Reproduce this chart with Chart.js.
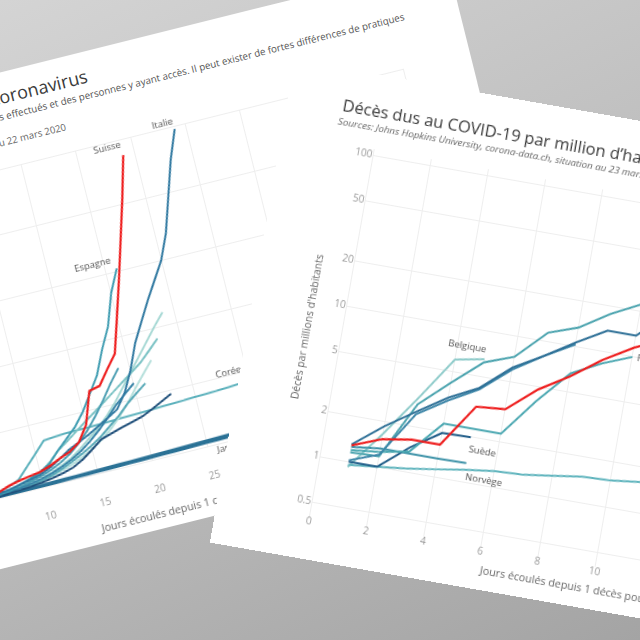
<!DOCTYPE html>
<html lang="fr">
<head>
<meta charset="utf-8">
<title>Coronavirus – cas et décès par million d'habitants</title>
<script src="https://cdn.jsdelivr.net/npm/chart.js@4.4.1/dist/chart.umd.min.js"></script>
<style>
  html, body { margin: 0; padding: 0; }
  body {
    width: 640px; height: 640px; overflow: hidden; position: relative;
    background: linear-gradient(155deg, #d4d4d4 0%, #c0c0c0 45%, #a4a4a4 100%);
    font-family: 'Open Sans', 'Noto Sans', sans-serif;
  }
  .card { position: absolute; background: #fff; overflow: hidden; }
  #card-cases {
    left: -553px; top: -39px; width: 1000px; height: 482px;
    transform-origin: 100% 0; transform: rotate(-14deg);
  }
  #card-deaths {
    left: 295px; top: 60px; width: 800px; height: 490px;
    transform-origin: 0 0; transform: rotate(10deg);
  }
  .txt { position: absolute; white-space: nowrap; }
  .title { line-height: 24px; color: #3b3b3b; }
  .sub { line-height: 12px; color: #555; }
  canvas { position: absolute; }
</style>
</head>
<body>

<div class="card" id="card-cases">
  <div class="txt title" style="right:377px; top:12px; font-size:18px;">Nombre de cas de coronavirus</div>
  <div class="txt sub" style="right:55px; top:38px; font-size:9.8px;">Les chiffres dépendent du nombre de tests effectués et des personnes y ayant accès. Il peut exister de fortes différences de pratiques</div>
  <div class="txt sub" style="right:410px; top:63px; font-size:9.6px; color:#666;">Sources: Johns Hopkins University, corona-data.ch, situation au 22 mars 2020</div>
  <canvas id="chart-cases" width="632" height="400" style="left:329px; top:74px;"></canvas>
</div>

<div class="card" id="card-deaths">
  <div class="txt title" style="left:55px; top:24px; font-size:16.5px;">Décès dus au COVID-19 par million d’habitants</div>
  <div class="txt sub" style="left:53px; top:47px; font-size:9.8px; font-style:italic; color:#666;">Sources: Johns Hopkins University, corona-data.ch, situation au 23 mars 2020</div>
  <canvas id="chart-deaths" width="691" height="411" style="left:45px; top:66px;"></canvas>
</div>

<script>
// ---- cas par million d'habitants, index = jours depuis 1 cas / million ----
const casSuisse    = [1, 2, 3, 5, 7, 11, 18, 30, 38, 44, 49, 60, 75, 88, 110, 158, 258, 266, 310, 352, 465, 580, 700, 820, 950];
const casItalie    = [1, 2, 3, 5, 7, 10, 14, 19, 26, 33, 41, 55, 74, 95, 110, 126, 144, 162, 181, 225, 290, 370, 430, 490, 545, 600, 680, 790, 900, 990];
const casEspagne   = [1.8, 2.6, 3.5, 4.7, 6, 8.5, 11, 14, 26, 36, 49, 67, 100, 130, 160, 200, 250, 300, 375, 440, 540, 610];
const casCoree     = [1, 2, 4, 8, 12, 16, 20, 28, 42, 75, 108, 142, 145, 147, 148, 148, 149, 150, 151, 152, 153, 154, 156, 157, 158, 160, 161, 162, 164, 166, 168, 170, 171];
const casJapon     = [1, 1.3, 1.6, 2, 2.5, 3.2, 4.2, 5, 5.8, 6.5, 7.2, 7.8, 8.4, 9, 9.6, 10.2, 10.8, 11.4, 12, 12.7, 13.4, 14.1, 14.9, 15.7, 16.5, 17.3, 18.2, 19, 19.8];
const casTaiwan    = [1, 1.1, 1.3, 1.5, 1.8, 2.1, 2.6, 3.1, 3.6, 4, 4.5, 5, 5.5, 6, 6.4, 6.8, 7.3, 7.8, 8.3, 8.8, 9.3, 9.8, 10.4, 11, 11.6, 12.2, 12.8, 13.4];
const casNorvege   = [1, 1.5, 2, 3, 4, 5, 7, 10, 14, 20, 28, 38, 52, 68, 90, 115, 140, 170, 205, 245, 285, 325, 365, 405, 442];
const casAutriche  = [1, 1.4, 2, 3, 4, 6, 8, 12, 18, 28, 45, 70, 100, 122, 145, 168, 190, 213, 236, 259, 282, 305, 335, 366];
const casAllemagne = [1, 1.5, 2, 3, 4, 5, 7, 9, 12, 16, 21, 28, 37, 48, 62, 80, 100, 125, 155, 190, 230, 268, 305];
const casFrance    = [1, 1.5, 2.2, 3, 4, 5.5, 7, 9, 12, 16, 22, 30, 42, 56, 72, 90, 110, 135, 160, 190, 215, 239];
const casSuede     = [1, 1.3, 1.7, 2.2, 3, 4, 5, 7, 9, 12, 16, 21, 28, 38, 55, 78, 102, 112, 122, 131, 140, 155, 171, 188];
const casDanemark  = [1, 1.5, 2, 3, 4, 6, 8, 11, 15, 20, 27, 36, 48, 63, 82, 105, 132, 162, 195, 222, 248];
const casBelgique  = [1, 1.6, 2.4, 3.5, 5, 7, 10, 14, 19, 26, 35, 47, 62, 82, 108, 140, 178, 220, 265, 306];

// ---- décès par million d'habitants, index 0 = jour 1 ----
const decesSuisse   = [1.28, 1.52, 1.63, 1.63, 3.15, 3.27, 4.78, 6.3, 8.75, 11.4, 14.0];
const decesItalie   = [1.3, 1.85, 2.5, 3.35, 4.2, 6.2, 8.0, 10.6, 13.7, 13.7, 21, 23.8, 30, 34.6, 41.4, 49.2, 56.6, 66.9, 79.8, 90.7];
const decesEspagne  = [1.15, 1.17, 2.8, 4.2, 6.2, 7.3, 11.4, 13.3, 17.7, 22.2, 29, 37.8];
const decesBelgique = [0.92, 1.65, 3.1, 6.0, 6.5];
const decesPaysBas  = [1.02, 1.2, 2.4, 3.2, 4.1, 6.0, 8.0, 10.3];
const decesFrance   = [1.19, 1.25, 1.36, 2.25, 2.25, 2.25, 4.0, 6.6, 8.3, 9.9];
const decesSuede    = [1.0, 1.0, 1.45, 1.95, 1.97];
const decesDanemark = [1.25, 1.32, 1.32, 1.32, 1.33];
const decesNorvege  = [0.95, 1.0, 1.05, 1.12, 1.2, 1.27, 1.3, 1.38, 1.47, 1.5, 1.58, 1.65];

const casTicksY = [0, 200, 400, 600, 800, 1000];
const decesTicksY = [0.5, 1, 2, 5, 10, 20, 50, 100];

const FONT = "'Open Sans', 'Noto Sans', sans-serif";
Chart.defaults.font.family = FONT;

function toPoints(values, firstDay) {
  return values.map((v, i) => ({ x: i + firstDay, y: v }));
}

// draws the country names next to their line, positioned through the scales
function lineLabels(items) {
  return {
    id: 'lineLabels',
    afterDatasetsDraw(chart) {
      const { ctx, scales } = chart;
      ctx.save();
      ctx.font = '9.5px ' + FONT;
      ctx.fillStyle = '#555';
      ctx.textBaseline = 'middle';
      items.forEach(it => {
        const ds = chart.data.datasets.find(d => d.label === it.name);
        if (!ds) return;
        const idx = it.idx === undefined ? ds.data.length - 1 : it.idx;
        const pt = ds.data[idx];
        ctx.textAlign = it.align;
        ctx.fillText(it.name, scales.x.getPixelForValue(pt.x) + it.dx, scales.y.getPixelForValue(pt.y) + it.dy);
      });
      ctx.restore();
    }
  };
}

function makeSet(name, values, firstDay, color, width) {
  return {
    label: name, data: toPoints(values, firstDay),
    borderColor: color, borderWidth: width || 2,
    pointRadius: 0, tension: 0, fill: false
  };
}

// red first so it is drawn on top
new Chart(document.getElementById('chart-cases'), {
  type: 'line',
  data: {
    datasets: [
      makeSet('Suisse', casSuisse, 0, '#ee1c1c', 2.2),
      makeSet('Italie', casItalie, 0, '#2f78a0'),
      makeSet('Espagne', casEspagne, 0, '#3e9cb1'),
      makeSet('Suède', casSuede, 0, '#1f4f7a'),
      makeSet('Danemark', casDanemark, 0, '#3783a7'),
      makeSet('Belgique', casBelgique, 0, '#4d9fb3'),
      makeSet('France', casFrance, 0, '#58a9b7'),
      makeSet('Autriche', casAutriche, 0, '#7cc3c5'),
      makeSet('Norvège', casNorvege, 0, '#a6d8d4'),
      makeSet('Allemagne', casAllemagne, 0, '#b7e0dc'),
      makeSet('Corée du Sud', casCoree, 0, '#5cb1bc'),
      makeSet('Japon', casJapon, 0, '#2b7296', 3),
      makeSet('Taïwan', casTaiwan, 0, '#2b7296', 3)
    ]
  },
  options: {
    responsive: false,
    animation: false,
    layout: { padding: { top: 20, right: 12, left: 0, bottom: 0 } },
    plugins: { legend: { display: false }, tooltip: { enabled: false } },
    scales: {
      x: {
        type: 'linear', min: 0, max: 50,
        ticks: { stepSize: 5, padding: 24, color: '#9a9a9a', font: { size: 10 } },
        grid: { color: '#eeeeee', drawTicks: false },
        border: { display: false },
        title: { display: true, text: "Jours écoulés depuis 1 cas par million d'habitants", color: '#666', font: { size: 10.7 }, padding: 0 },
        afterFit: s => { s.height = 61; }
      },
      y: {
        min: 0, max: 1000,
        afterBuildTicks: s => { s.ticks = casTicksY.map(v => ({ value: v })); },
        ticks: { color: '#9a9a9a', font: { size: 10 }, padding: 4 },
        grid: { color: '#eeeeee', drawTicks: false },
        border: { display: false },
        afterFit: s => { s.width = 40; }
      }
    }
  },
  plugins: [lineLabels([
    { name: 'Italie', align: 'right', dx: 0, dy: -8 },
    { name: 'Suisse', align: 'right', dx: 0, dy: -11 },
    { name: 'Espagne', align: 'right', dx: -4, dy: -9 },
    { name: 'Corée du Sud', align: 'right', dx: 6, dy: -12 },
    { name: 'Japon', align: 'right', dx: 0, dy: 13 }
  ])]
});

new Chart(document.getElementById('chart-deaths'), {
  type: 'line',
  data: {
    datasets: [
      makeSet('Suisse', decesSuisse, 1, '#ee1c1c', 2.2),
      makeSet('Italie', decesItalie, 1, '#2d6f96'),
      makeSet('Pays-Bas', decesPaysBas, 1, '#3d86a8'),
      makeSet('Espagne', decesEspagne, 1, '#4aa3ae'),
      makeSet('France', decesFrance, 1, '#4aa7b1'),
      makeSet('Suède', decesSuede, 1, '#1f5c88'),
      makeSet('Danemark', decesDanemark, 1, '#3b91a7'),
      makeSet('Norvège', decesNorvege, 1, '#5fb4bd'),
      makeSet('Belgique', decesBelgique, 1, '#8ecbca')
    ]
  },
  options: {
    responsive: false,
    animation: false,
    layout: { padding: { top: 8, right: 12, left: 0, bottom: 0 } },
    plugins: { legend: { display: false }, tooltip: { enabled: false } },
    scales: {
      x: {
        type: 'linear', min: 0, max: 21.72,
        ticks: { stepSize: 2, padding: -1, color: '#9a9a9a', font: { size: 10 } },
        grid: { color: '#eeeeee', drawTicks: false },
        border: { display: false },
        title: { display: true, text: "Jours écoulés depuis 1 décès pour 1 million d'habitants", color: '#666', font: { size: 10.8 }, padding: 0 },
        afterFit: s => { s.height = 30; }
      },
      y: {
        type: 'logarithmic', min: 0.4, max: 110,
        afterBuildTicks: s => { s.ticks = decesTicksY.map(v => ({ value: v })); },
        ticks: { color: '#9a9a9a', font: { size: 10 }, padding: 1, callback: v => String(v) },
        grid: { color: '#eeeeee', drawTicks: false },
        border: { display: false },
        title: { display: true, text: "Décès par millions d'habitants", color: '#666', font: { size: 10.5 }, padding: { top: 8, bottom: 0 } },
        afterFit: s => { s.width = 48.5; }
      }
    }
  },
  plugins: [lineLabels([
    { name: 'Belgique', align: 'right', dx: 0, dy: -10 },
    { name: 'Suède', align: 'left', dx: 0, dy: 12 },
    { name: 'Norvège', idx: 5, align: 'center', dx: -9, dy: 11 },
    { name: 'France', align: 'left', dx: 5, dy: 0 }
  ])]
});
</script>
</body>
</html>
